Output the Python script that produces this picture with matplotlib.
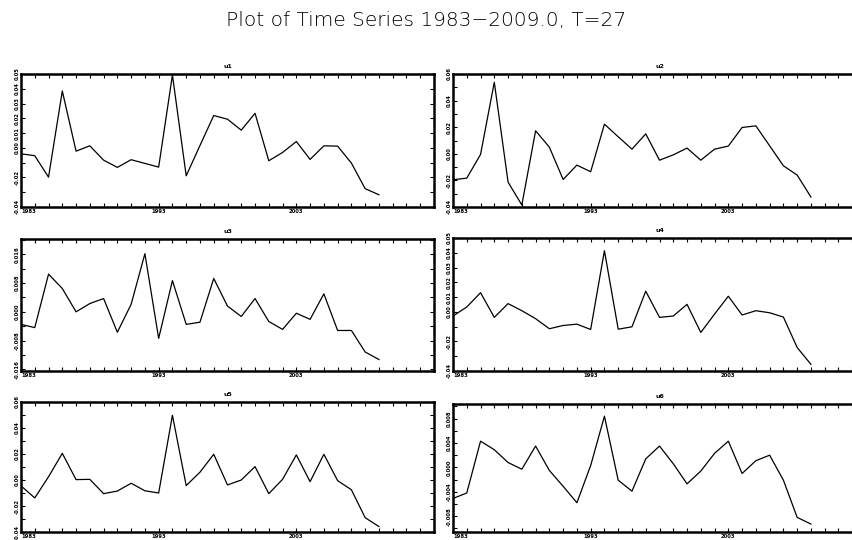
import matplotlib
matplotlib.use("Agg")
import matplotlib.pyplot as plt
import numpy as np

years = list(range(1983, 2010))

u1 = [-0.0040, -0.0053, -0.0198, 0.0385, -0.0022, 0.0014, -0.0083, -0.0132, -0.0080,
      -0.0105, -0.0130, 0.0493, -0.0189, 0.0016, 0.0219, 0.0194, 0.0120, 0.0234,
      -0.0087, -0.0031, 0.0043, -0.0078, 0.0014, 0.0012, -0.0103, -0.0276, -0.0317]
u2 = [-0.0195, -0.0183, -0.0005, 0.0538, -0.0213, -0.0385, 0.0173, 0.0050, -0.0193,
      -0.0085, -0.0135, 0.0223, 0.0128, 0.0035, 0.0150, -0.0048, -0.0008, 0.0043,
      -0.0048, 0.0035, 0.0058, 0.0198, 0.0210, 0.0060, -0.0090, -0.0160, -0.0325]
u3 = [-0.0035, -0.0044, 0.0105, 0.0065, 0.0000, 0.0023, 0.0037, -0.0057, 0.0021,
      0.0162, -0.0074, 0.0087, -0.0035, -0.0029, 0.0093, 0.0016, -0.0013, 0.0037,
      -0.0027, -0.0049, -0.0004, -0.0021, 0.0050, -0.0052, -0.0052, -0.0112, -0.0133]
u4 = [-0.0028, 0.0033, 0.0130, -0.0037, 0.0056, 0.0008, -0.0046, -0.0114, -0.0092,
      -0.0083, -0.0119, 0.0414, -0.0117, -0.0101, 0.0140, -0.0037, -0.0028, 0.0051,
      -0.0139, -0.0015, 0.0106, -0.0021, 0.0008, -0.0006, -0.0035, -0.0241, -0.0355]
u5 = [-0.0045, -0.0138, 0.0025, 0.0205, 0.0003, 0.0005, -0.0105, -0.0085, -0.0025,
      -0.0083, -0.0100, 0.0498, -0.0043, 0.0060, 0.0198, -0.0038, 0.0000, 0.0103,
      -0.0105, 0.0005, 0.0193, -0.0013, 0.0198, -0.0005, -0.0075, -0.0290, -0.0358]
u6 = [-0.0051, -0.0042, 0.0043, 0.0029, 0.0008, -0.0003, 0.0035, -0.0005, -0.0031,
      -0.0058, 0.0003, 0.0084, -0.0021, -0.0039, 0.0014, 0.0035, 0.0006, -0.0027,
      -0.0006, 0.0023, 0.0043, -0.0010, 0.0011, 0.0020, -0.0021, -0.0082, -0.0093]

names = ["u1", "u2", "u3", "u4", "u5", "u6"]
series = [u1, u2, u3, u4, u5, u6]
x_labels = ["1983", "1993", "2003"]
x_label_years = [1983, 1993, 2003]

# y axis configuration: limits, tick positions, labelled ticks (strings)
y_limits = [(-0.04, 0.05), (-0.04, 0.06), (-0.0165, 0.0203),
            (-0.04, 0.05), (-0.04, 0.06), (-0.0106, 0.0104)]
y_ticks = [
    [-0.04, -0.03, -0.02, -0.01, 0.0, 0.01, 0.02, 0.03, 0.04, 0.05],
    [-0.04, -0.03, -0.02, -0.01, 0.0, 0.01, 0.02, 0.03, 0.04, 0.05, 0.06],
    [-0.016, -0.012, -0.008, -0.004, 0.0, 0.004, 0.008, 0.012, 0.016, 0.020],
    [-0.04, -0.03, -0.02, -0.01, 0.0, 0.01, 0.02, 0.03, 0.04, 0.05],
    [-0.04, -0.03, -0.02, -0.01, 0.0, 0.01, 0.02, 0.03, 0.04, 0.05, 0.06],
    [-0.010, -0.008, -0.006, -0.004, -0.002, 0.0, 0.002, 0.004, 0.006, 0.008, 0.010],
]
y_ticklabels = [
    ["-0.04", "", "-0.02", "", "0.00", "0.01", "0.02", "0.03", "0.04", "0.05"],
    ["-0.04", "", "-0.02", "", "0.00", "", "0.02", "", "0.04", "", "0.06"],
    ["-0.016", "", "-0.008", "", "0.000", "", "0.008", "", "0.016", ""],
    ["-0.04", "", "-0.02", "", "0.00", "0.01", "0.02", "0.03", "0.04", "0.05"],
    ["-0.04", "", "-0.02", "", "0.00", "", "0.02", "", "0.04", "", "0.06"],
    ["", "-0.008", "", "-0.004", "", "0.000", "", "0.004", "", "0.008", ""],
]

W, H = 853, 540
fig = plt.figure(figsize=(W / 100, H / 100), dpi=100)

# panel pixel boxes: (left, top, right, bottom)
boxes = [(21, 74, 434, 207), (453, 74, 866, 207),
         (21, 239, 434, 371), (453, 238, 866, 371),
         (21, 402, 434, 532), (453, 404, 866, 532)]

for i, (name, vals) in enumerate(zip(names, series)):
    l, t, r, b = boxes[i]
    ax = fig.add_axes([l / W, 1 - b / H, (r - l) / W, (b - t) / H])
    ax.plot(years, vals, color="black", lw=0.9)
    ax.set_xlim(1983, 2013)
    ax.set_ylim(*y_limits[i])
    ax.set_xticks(list(range(1983, 2014)))
    ax.set_xticklabels([str(y) if y in x_label_years else "" for y in range(1983, 2014)])
    for lab in ax.get_xticklabels():
        if lab.get_text() == "1983":
            lab.set_ha("left")
    ax.set_yticks(y_ticks[i])
    ax.set_yticklabels(y_ticklabels[i], rotation=90, va="center")
    ax.tick_params(axis="both", direction="in", length=3, width=0.8,
                   top=True, right=True, labelsize=3.8, pad=1.2)
    for lab in ax.get_xticklabels() + ax.get_yticklabels():
        lab.set_fontweight("bold")
    for s in ax.spines.values():
        s.set_linewidth(1.8)
    ax.set_title(name, fontsize=4.5, fontweight="bold", pad=4)

fig.text(0.5, 1 - 21 / H, "Plot of Time Series 1983\u22122009.0, T=27",
         ha="center", va="center", fontsize=14.5, color="black",
         fontweight="light")

fig.savefig("out.png", dpi=100)
